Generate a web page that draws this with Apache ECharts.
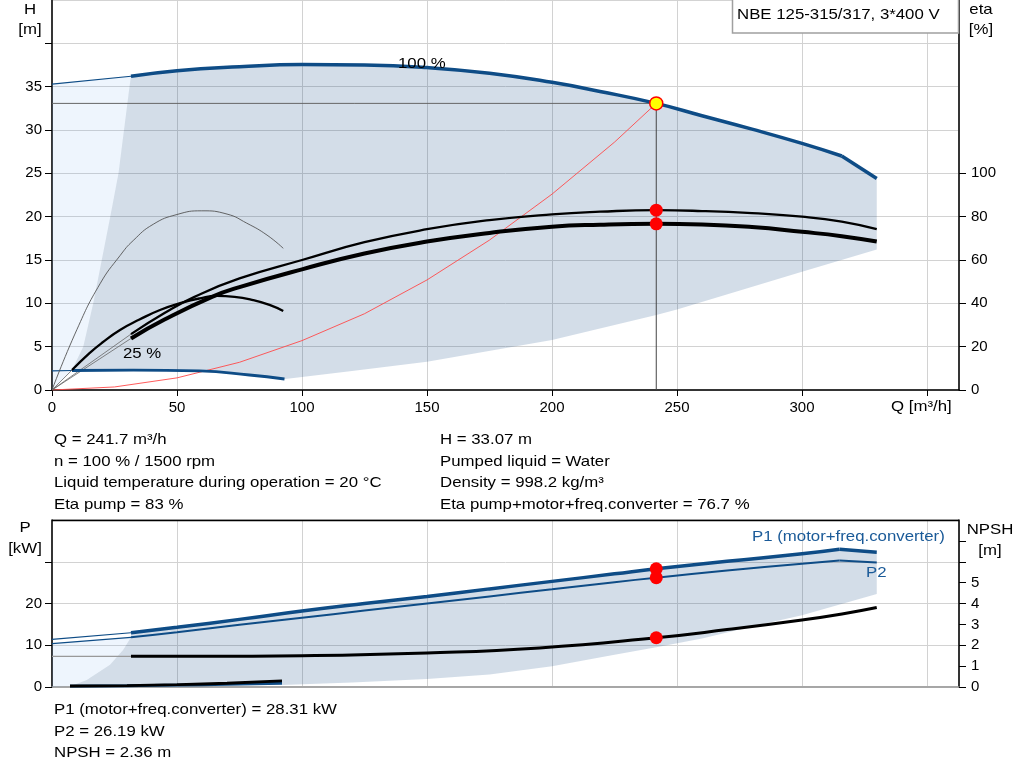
<!DOCTYPE html>
<html><head><meta charset="utf-8">
<script src="https://cdn.jsdelivr.net/npm/echarts@6/dist/echarts.min.js"></script>
<style>html,body{margin:0;padding:0;background:#fff}#c{width:1024px;height:781px}</style>
</head><body><div id="c"></div>
<script>
// ---------- axis ticks ----------
const xTicks = [0, 50, 100, 150, 200, 250, 300, 350];
const xLabels = [0, 50, 100, 150, 200, 250, 300];
const hTicks = [0, 5, 10, 15, 20, 25, 30, 35, 40];
const hLabels = [0, 5, 10, 15, 20, 25, 30, 35];
const etaTicks = [0, 20, 40, 60, 80, 100];
const pTicks = [0, 10, 20, 30];
const pLabels = [0, 10, 20];
const npshTicks = [0, 1, 2, 3, 4, 5, 6, 7];
const npshLabels = [0, 1, 2, 3, 4, 5];

// ---------- head curve (H, m) ----------
const qH100Ext = [0, 31.6];
const hH100Ext = [35.3, 36.2];
const qH100 = [31.6, 50, 75, 100, 125, 150, 175, 200, 219.2, 241.7, 260, 280, 300, 315.9];
const hH100 = [36.2, 36.85, 37.3, 37.55, 37.5, 37.2, 36.55, 35.5, 34.45, 33.07, 31.65, 30.1, 28.45, 27.0];
const qH100End = [315.9, 329.9];
const hH100End = [27.0, 24.4];
const qH25Ext = [0, 8];
const hH25Ext = [2.2, 2.25];
const qH25 = [8, 32.5, 59, 79, 93];
const hH25 = [2.25, 2.3, 2.2, 1.73, 1.27];
const qMinFlow = [0, 8, 12.5, 16.5, 19.9, 23.3, 26.6, 31, 31.6];
const hMinFlow = [0, 2.3, 5, 10, 15, 20, 25, 35, 36.2];
const qLowLimit = [92.5, 120, 150, 200, 241.7, 250, 300, 329.9];
const hLowLimit = [1.25, 2.2, 3.27, 5.77, 8.65, 9.3, 13.65, 16.2];
const qSystem = [0, 25, 50, 75, 100, 125, 150, 175, 200, 225, 241.7];
const hSystem = [0, 0.35, 1.4, 3.2, 5.7, 8.8, 12.7, 17.3, 22.6, 28.6, 33.07];

// ---------- efficiency (eta, %) ----------
const qEtaPumpExt = [0, 31.6];
const etaPumpExt = [0, 25.8];
const qEtaPump = [31.6, 45, 57, 75, 100, 125, 150, 175, 200, 219.2, 241.7, 260, 280, 300, 315.9, 329.9];
const etaPump = [25.8, 35.5, 43, 51.5, 60, 68.2, 74.2, 78.4, 81.1, 82.3, 83, 82.6, 81.6, 80, 77.7, 74.2];
const qEtaTotExt = [0, 31.6];
const etaTotExt = [0, 23.8];
const qEtaTot = [31.6, 45, 64, 75, 100, 125, 150, 175, 200, 219.2, 241.7, 260, 280, 300, 315.9, 329.9];
const etaTot = [23.8, 32.5, 43, 47.5, 55.7, 63, 68.5, 72.5, 75.4, 76.3, 76.7, 76.4, 75.2, 73, 71, 68.5];
const qEta25Ext = [0, 8];
const eta25Ext = [0, 9.2];
const qEta25 = [8, 15, 20, 27.2, 35, 43.2, 52, 59.2, 65.9, 73, 80.5, 87, 92.5];
const eta25 = [9.2, 17, 21.8, 27.7, 32.5, 36.9, 40.3, 42.3, 43.4, 43, 41.5, 39.3, 36.5];
const qEta25Pump = [0, 10, 19.2, 27.2, 32.5, 40.5, 50, 59.9, 70, 77.9, 86, 92.5];
const eta25Pump = [0, 28, 49, 62, 69, 76.5, 81, 82.7, 81.2, 77, 71.5, 65.4];

// ---------- power (kW) and NPSH (m) ----------
const qPExt = [0, 31.6];
const p1Ext = [11.4, 13.0];
const p2Ext = [10.4, 11.9];
const qP = [31.6, 50, 75, 100, 125, 150, 175, 200, 225, 241.7, 270, 300, 315];
const p1 = [13.0, 14.3, 16.2, 18.2, 20.0, 21.7, 23.5, 25.3, 27.1, 28.31, 30.1, 31.9, 33.0];
const p2 = [11.9, 13.1, 14.9, 16.6, 18.3, 20.0, 21.7, 23.4, 25.1, 26.19, 27.9, 29.5, 30.3];
const qPEnd = [315, 329.9];
const p1End = [33.0, 32.3];
const p2End = [30.3, 29.8];
const qPMin = [0, 7.2, 13.9, 23.2, 28.5, 31.6];
const pMin = [0, 0.24, 1.7, 5.3, 8.95, 11.9];
const qPLow = [92, 120, 150, 175, 200, 225, 241.7, 260, 280, 300, 329.9];
const pLow = [0.48, 1.1, 1.9, 3.0, 5.0, 7.7, 9.5, 11.6, 14.5, 17.2, 22.3];
const qP25 = [7.2, 30, 50, 70, 92];
const p1_25 = [0.24, 0.35, 0.55, 0.9, 1.45];
const p2_25 = [0.2, 0.3, 0.45, 0.62, 0.9];
const qNpshExt = [0, 31.6];
const npshExt = [1.47, 1.47];
const qNpsh = [31.6, 60, 100, 150, 195, 241.7, 270, 300, 316, 329.9];
const npsh = [1.47, 1.47, 1.5, 1.63, 1.87, 2.36, 2.75, 3.21, 3.5, 3.81];

// ---------- duty point ----------
const opQ = 241.7, opH = 33.07, opEtaPump = 83, opEtaTot = 76.7, opP1 = 28.31, opP2 = 26.19, opNpsh = 2.36;

// ---------- texts ----------
const infoLeft = ['Q = 241.7 m³/h', 'n = 100 % / 1500 rpm', 'Liquid temperature during operation = 20 °C', 'Eta pump = 83 %'];
const infoRight = ['H = 33.07 m', 'Pumped liquid = Water', 'Density = 998.2 kg/m³', 'Eta pump+motor+freq.converter = 76.7 %'];
const infoBottom = ['P1 (motor+freq.converter) = 28.31 kW', 'P2 = 26.19 kW', 'NPSH = 2.36 m'];
const titleText = 'NBE 125-315/317, 3*400 V';

// ---------- helpers ----------
const zip = (a, b) => a.map((v, i) => [v, b[i]]);
const rev = a => a.slice().reverse();
const BLUE = '#0e4c86';
const FONT = '"Liberation Sans", Arial, sans-serif';
const SX = 1.12;

function poly(points, xi, yi, color) {
  return {
    type: 'custom', xAxisIndex: xi, yAxisIndex: yi, silent: true, z: 1,
    data: [[0, 0]],
    renderItem: function (params, api) {
      return { type: 'polygon', shape: { points: points.map(p => api.coord(p)) }, style: { fill: color } };
    }
  };
}
function line(pts, xi, yi, color, width, smooth, z) {
  return {
    type: 'line', xAxisIndex: xi, yAxisIndex: yi, data: pts, symbol: 'none',
    smooth: smooth ? 0.5 : false,
    lineStyle: { color: color, width: width }, z: z || 3, silent: true
  };
}
function dots(pts, xi, yi) {
  return {
    type: 'scatter', xAxisIndex: xi, yAxisIndex: yi, data: pts, symbolSize: 13, z: 6,
    itemStyle: { color: '#ff0000', opacity: 1 }, silent: true
  };
}

// polygons
const topLight = zip(qH100Ext, hH100Ext).concat(rev(zip(qMinFlow, hMinFlow)).slice(1));
const topDark = zip(qH100, hH100)
  .concat(zip(qH100End, hH100End).slice(1))
  .concat(rev(zip(qLowLimit, hLowLimit)))
  .concat(rev(zip(qH25, hH25)))
  .concat(zip(qMinFlow, hMinFlow).slice(1));
const botLight = zip(qPExt, p2Ext).concat(rev(zip(qPMin, pMin)).slice(1));
const botDark = zip(qP, p1)
  .concat(zip(qPEnd, p1End).slice(1))
  .concat(rev(zip(qPLow, pLow)))
  .concat(rev(zip(qP25, p2_25)))
  .concat(zip(qPMin, pMin).slice(2))
  .concat([[qP[0], p1[0]]]);

const axisText = { color: '#000', fontSize: 15, fontFamily: FONT };
const gridLine = { show: true, lineStyle: { color: '#d2d2d2', width: 1 } };

const option = {
  animation: false,
  backgroundColor: '#fff',
  grid: [
    { left: 52, top: 0, width: 907, height: 390, show: true, borderColor: '#a8a8a8', borderWidth: 1 },
    { left: 52, top: 520, width: 907, height: 167, show: true, borderColor: '#9a9a9a', borderWidth: 1 }
  ],
  xAxis: [
    { type: 'value', gridIndex: 0, min: 0, max: 362.8, interval: 50,
      axisLine: { show: true, lineStyle: { color: '#000', width: 1.5 } },
      axisTick: { show: true, length: 6, customValues: xTicks, lineStyle: { color: '#000' } },
      axisLabel: Object.assign({ customValues: xLabels, margin: 10 }, axisText),
      splitLine: gridLine },
    { type: 'value', gridIndex: 1, min: 0, max: 362.8, interval: 50,
      axisLine: { show: true, lineStyle: { color: '#999', width: 1.5 } },
      axisTick: { show: false, customValues: xTicks },
      axisLabel: { show: false, customValues: xTicks },
      splitLine: gridLine }
  ],
  yAxis: [
    { type: 'value', gridIndex: 0, min: 0, max: 45, interval: 5, position: 'left',
      axisLine: { show: true, lineStyle: { color: '#000', width: 1.5 } },
      axisTick: { show: true, length: 7, customValues: hTicks, lineStyle: { color: '#000' } },
      axisLabel: Object.assign({ customValues: hLabels, margin: 10 }, axisText),
      splitLine: gridLine },
    { type: 'value', gridIndex: 0, min: 0, max: 180, interval: 20, position: 'right',
      axisLine: { show: true, lineStyle: { color: '#000', width: 1.5 } },
      axisTick: { show: true, length: 7, customValues: etaTicks, lineStyle: { color: '#000' } },
      axisLabel: Object.assign({ customValues: etaTicks, margin: 12 }, axisText),
      splitLine: { show: false } },
    { type: 'value', gridIndex: 1, min: 0, max: 40, interval: 10, position: 'left',
      axisLine: { show: true, lineStyle: { color: '#000', width: 1.5 } },
      axisTick: { show: true, length: 7, customValues: pTicks, lineStyle: { color: '#000' } },
      axisLabel: Object.assign({ customValues: pLabels, margin: 10 }, axisText),
      splitLine: gridLine },
    { type: 'value', gridIndex: 1, min: 0, max: 8, interval: 1, position: 'right',
      axisLine: { show: true, lineStyle: { color: '#000', width: 1.5 } },
      axisTick: { show: true, length: 7, customValues: npshTicks, lineStyle: { color: '#000' } },
      axisLabel: Object.assign({ customValues: npshLabels, margin: 12 }, axisText),
      splitLine: { show: false } }
  ],
  series: [
    poly(topLight, 0, 0, 'rgba(120,180,240,0.13)'),
    poly(topDark, 0, 0, 'rgba(20,75,135,0.19)'),
    // duty point cross-hair
    line([[0, opH], [opQ, opH]], 0, 0, '#666', 1, false, 2),
    line([[opQ, opH], [opQ, 0]], 0, 0, '#444', 1, false, 2),
    // system curve
    line(zip(qSystem, hSystem), 0, 0, '#ff4a4a', 0.9, false, 3),
    // head curves
    line(zip(qH100Ext, hH100Ext), 0, 0, BLUE, 1.2, false),
    line(zip(qH100, hH100), 0, 0, BLUE, 3.5, true, 4),
    line(zip(qH100End, hH100End), 0, 0, BLUE, 3.5, false, 4),
    line(zip(qH25Ext, hH25Ext), 0, 0, BLUE, 1.2, false),
    line(zip(qH25, hH25), 0, 0, BLUE, 2.8, true, 4),
    // efficiency curves
    line(zip(qEta25Pump, eta25Pump), 0, 1, '#555', 0.9, true),
    line(zip(qEtaPumpExt, etaPumpExt), 0, 1, '#666', 0.8, false),
    line(zip(qEtaTotExt, etaTotExt), 0, 1, '#666', 0.8, false),
    line(zip(qEta25Ext, eta25Ext), 0, 1, '#666', 0.8, false),
    line(zip(qEta25, eta25), 0, 1, '#000', 2.3, true, 4),
    line(zip(qEtaPump, etaPump), 0, 1, '#000', 2.3, true, 4),
    line(zip(qEtaTot, etaTot), 0, 1, '#000', 4, true, 4),
    dots([[opQ, opEtaPump], [opQ, opEtaTot]], 0, 1),
    { type: 'scatter', xAxisIndex: 0, yAxisIndex: 0, data: [[opQ, opH]], symbolSize: 13, z: 7, silent: true,
      itemStyle: { color: '#ffff00', borderColor: '#ff0000', borderWidth: 1.5, opacity: 1 } },

    // lower chart
    poly(botLight, 1, 2, 'rgba(120,180,240,0.13)'),
    poly(botDark, 1, 2, 'rgba(20,75,135,0.19)'),
    line(zip(qNpshExt, npshExt), 1, 3, '#999', 1.2, false, 2),
    line(zip(qNpsh, npsh), 1, 3, '#000', 3, true, 4),
    line(zip(qPExt, p1Ext), 1, 2, BLUE, 1.2, false),
    line(zip(qPExt, p2Ext), 1, 2, BLUE, 1.2, false),
    line(zip(qP, p1), 1, 2, BLUE, 3.5, true, 4),
    line(zip(qPEnd, p1End), 1, 2, BLUE, 3.5, false, 4),
    line(zip(qP, p2), 1, 2, BLUE, 2, true, 4),
    line(zip(qPEnd, p2End), 1, 2, BLUE, 2, false, 4),
    line(zip(qP25, p2_25), 1, 2, BLUE, 2.8, true, 4),
    line(zip(qP25, p1_25), 1, 2, '#000', 2.8, true, 5),
    dots([[opQ, opP1], [opQ, opP2]], 1, 2),
    dots([[opQ, opNpsh]], 1, 3)
  ],
  graphic: []
};

function txt(x, y, s, opts) {
  return { type: 'text', x: x, y: y, scaleX: SX, z: 100, silent: true,
    style: { text: s, font: '15px ' + FONT, fill: '#000', verticalAlign: 'middle', textVerticalAlign: 'middle',
      align: (opts && opts.align) || 'left', textAlign: (opts && opts.align) || 'left' } };
}
const g = option.graphic;
g.push({ type: 'line', z: 98, silent: true, shape: { x1: 52, y1: 520.5, x2: 959, y2: 520.5 },
  style: { stroke: '#000', lineWidth: 1.3 } });
g.push({ type: 'rect', z: 99, silent: true, shape: { x: 732.5, y: -1, width: 226, height: 34 },
  style: { fill: '#fff', stroke: '#a0a0a0', lineWidth: 1.5 } });
g.push(txt(737, 15, titleText));
g.push(txt(30, 10, 'H', { align: 'center' }));
g.push(txt(30, 30, '[m]', { align: 'center' }));
g.push(txt(981, 10, 'eta', { align: 'center' }));
g.push(txt(981, 30, '[%]', { align: 'center' }));
g.push(txt(25, 528, 'P', { align: 'center' }));
g.push(txt(25, 549, '[kW]', { align: 'center' }));
g.push(txt(990, 530, 'NPSH', { align: 'center' }));
g.push(txt(990, 551, '[m]', { align: 'center' }));
g.push(txt(891, 407, 'Q [m³/h]'));
g.push(txt(398, 64, '100 %'));
g.push(txt(123, 354, '25 %'));
const lbl1 = txt(752, 537, 'P1 (motor+freq.converter)'); lbl1.style.fill = '#1a5a98'; g.push(lbl1);
const lbl2 = txt(866, 573, 'P2'); lbl2.style.fill = '#1a5a98'; g.push(lbl2);
infoLeft.forEach((s, i) => g.push(txt(54, 440 + i * 21.5, s)));
infoRight.forEach((s, i) => g.push(txt(440, 440 + i * 21.5, s)));
infoBottom.forEach((s, i) => g.push(txt(54, 710 + i * 21.5, s)));

const chart = echarts.init(document.getElementById('c'), null, { renderer: 'canvas' });
chart.setOption(option);
</script></body></html>
